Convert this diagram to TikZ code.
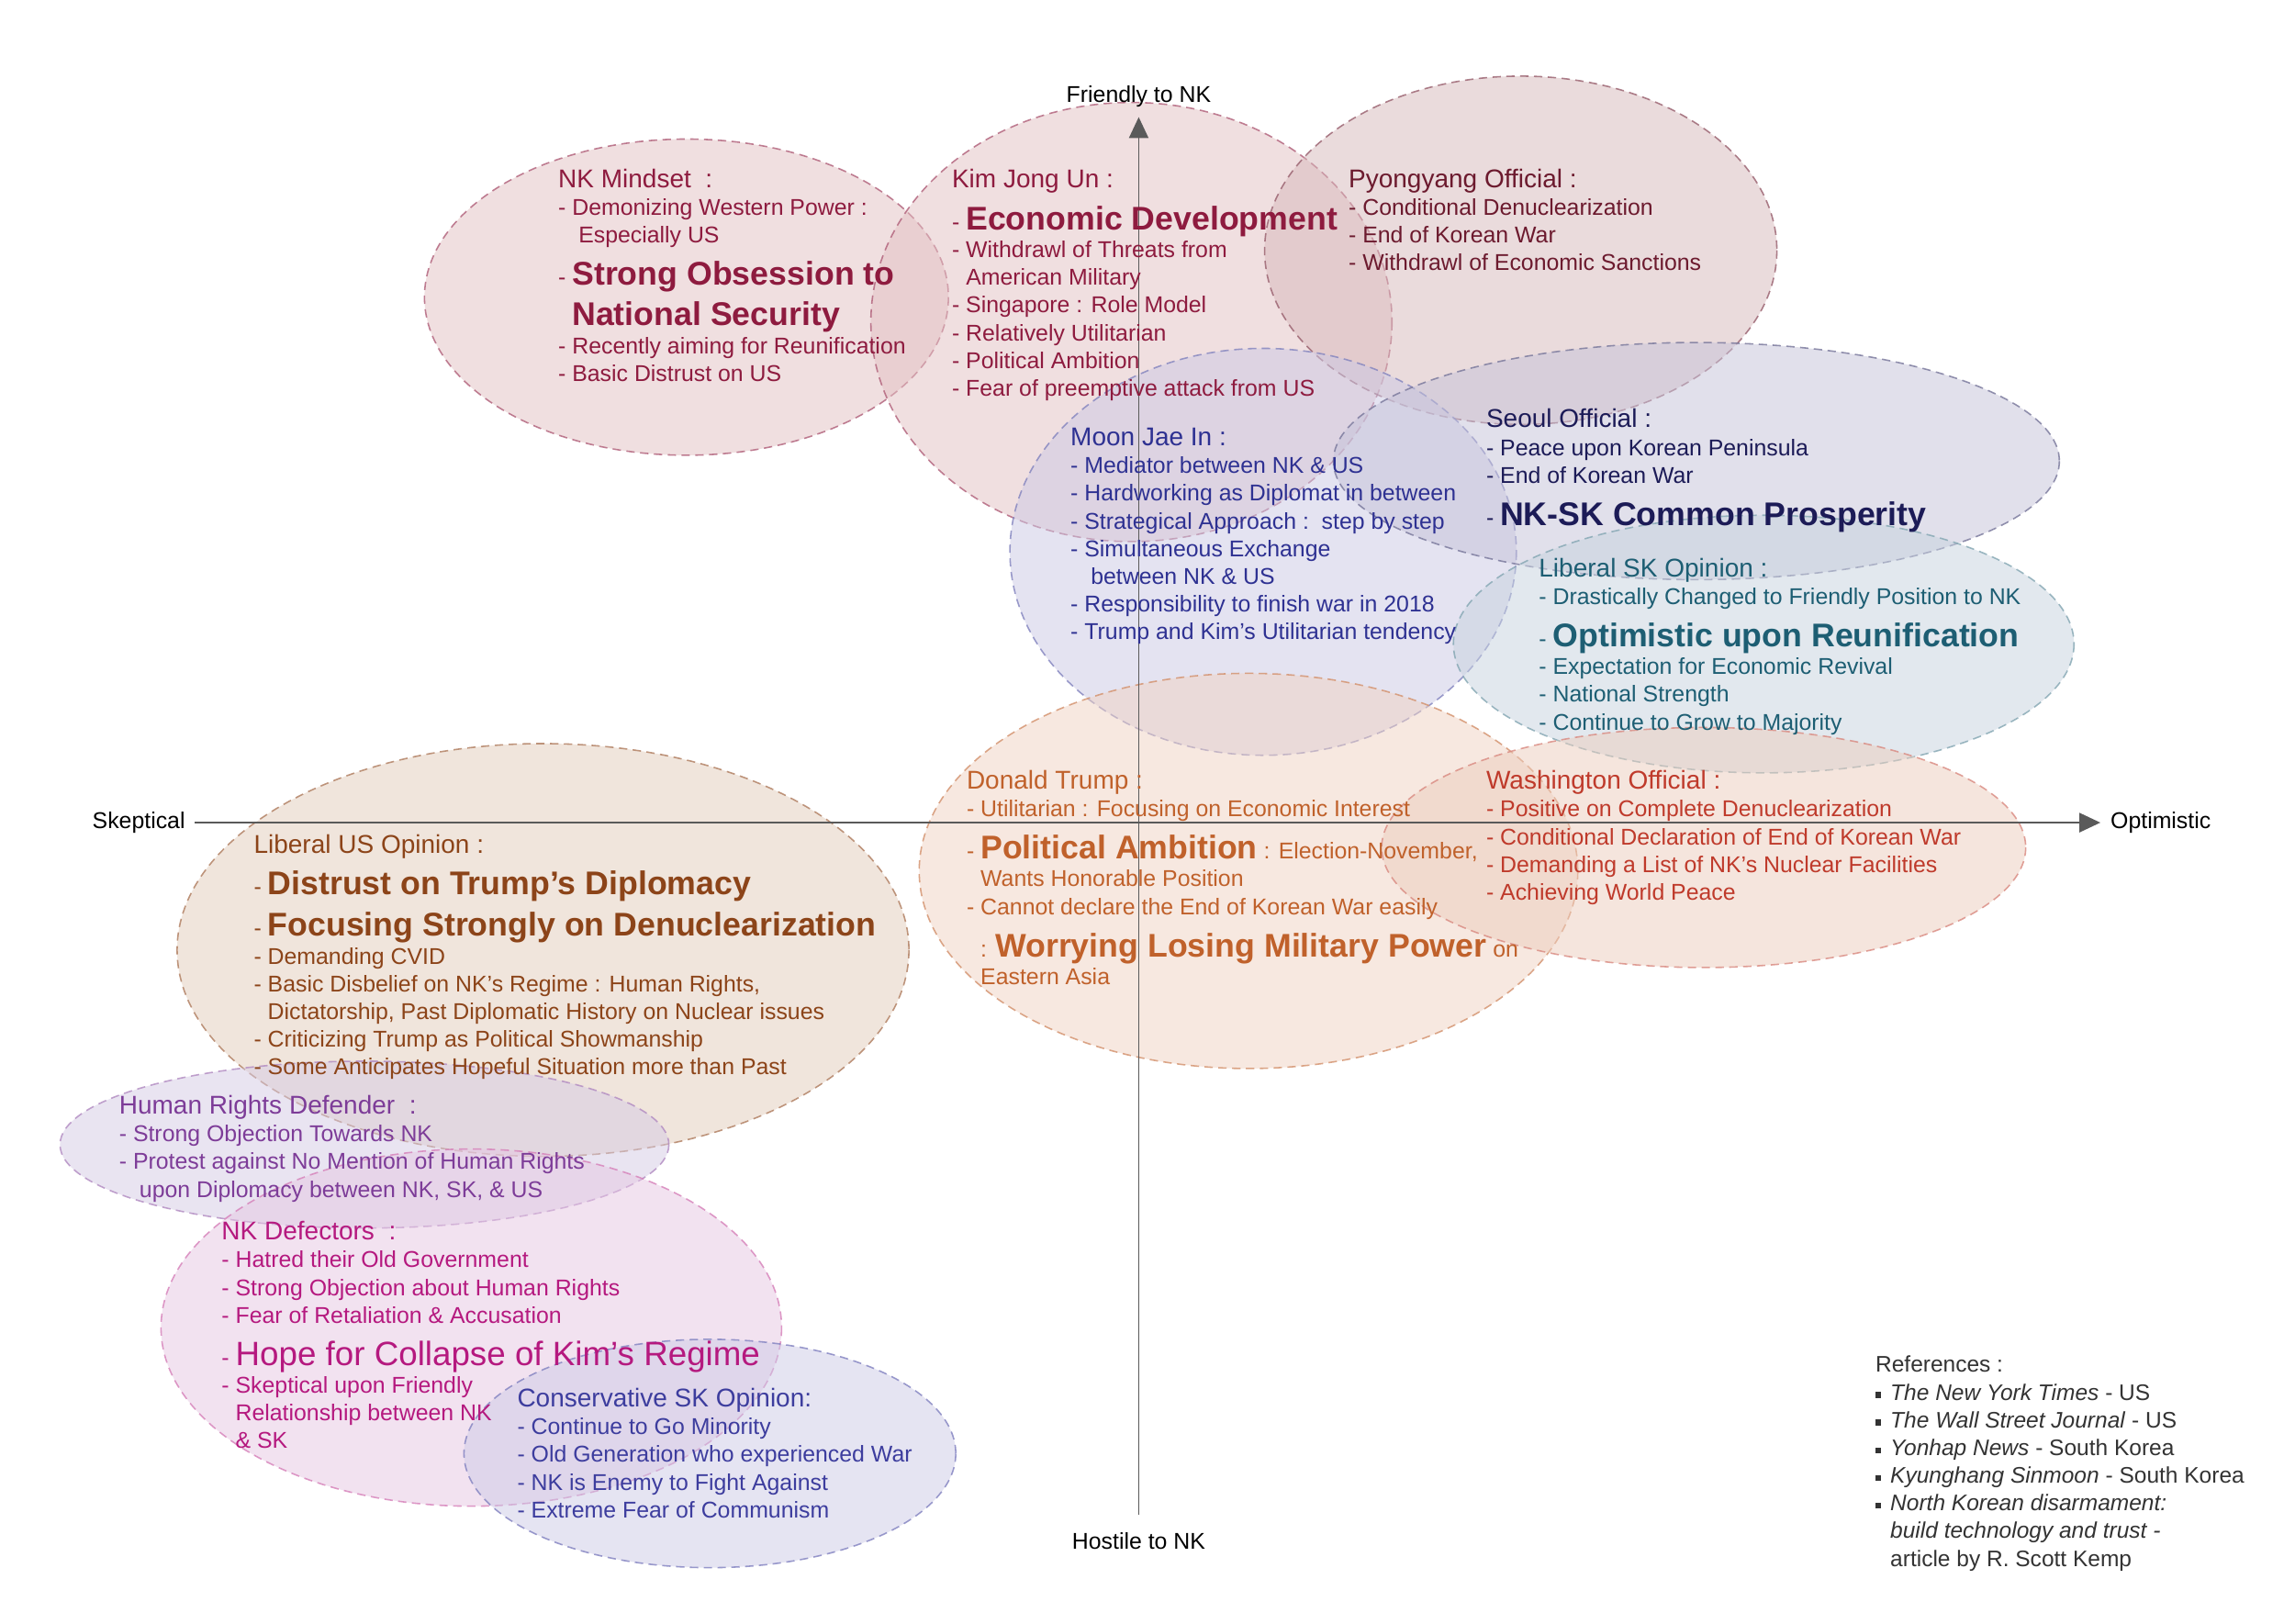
\documentclass[tikz,border=0pt]{standalone}
\usepackage{fontspec}
\setmainfont{Liberation Sans}
\usetikzlibrary{positioning, arrows.meta}
\definecolor{nkred}{HTML}{8E1B3F}
\definecolor{pyred}{HTML}{6C1A2E}
\definecolor{moonblue}{HTML}{2E3192}
\definecolor{seoulnavy}{HTML}{1C1B57}
\definecolor{lskteal}{HTML}{1D5E73}
\definecolor{trumporange}{HTML}{C0612B}
\definecolor{washred}{HTML}{BF3A2B}
\definecolor{lusbrown}{HTML}{8C4419}
\definecolor{hrpurple}{HTML}{7D3C98}
\definecolor{defmagenta}{HTML}{B5197F}
\definecolor{conindigo}{HTML}{3D3D9E}
\definecolor{refgray}{HTML}{333333}
\definecolor{axisgray}{HTML}{5A5A5A}
% fills (seen at half opacity)
\definecolor{nkfill}{HTML}{E3C1C3}
\definecolor{pyfill}{HTML}{D7B9BB}
\definecolor{moonfill}{HTML}{CBC9E5}
\definecolor{seoulfill}{HTML}{C5C3D9}
\definecolor{lskfill}{HTML}{C7D3DF}
\definecolor{trumpfill}{HTML}{F1D3C3}
\definecolor{washfill}{HTML}{EDCDBD}
\definecolor{lusfill}{HTML}{E3CDBB}
\definecolor{hrfill}{HTML}{D5CAE4}
\definecolor{deffill}{HTML}{E7C7E3}
\definecolor{confill}{HTML}{CDCBE7}
\newcommand{\blockfont}{\fontsize{7.1}{8.62}\selectfont\lineskiplimit=-50pt\relax}
\newcommand{\reffont}{\fontsize{7}{8.62}\selectfont\lineskiplimit=-50pt\relax}
\newcommand{\hdtxt}[1]{{\fontsize{8}{8.62}\selectfont #1}}
\newcommand{\bigtxt}[1]{{\fontsize{10.2}{8.62}\selectfont\bfseries #1}}
\newcommand{\hopetxt}[1]{{\fontsize{10.5}{8.62}\selectfont #1}}
\newcommand{\indt}{\hphantom{- }}
\newcommand{\refbul}{\makebox[4.6pt][l]{\raisebox{0.7pt}{\rule{1.8pt}{1.8pt}}}}

\begin{document}
\begin{tikzpicture}[
    x=0.016cm, y=-0.016cm,
    every node/.style={font=\fontsize{7.1}{8.62}\selectfont},
    blob/.style 2 args={fill=#1, fill opacity=0.5, draw=#2, draw opacity=0.8,
                        dash pattern=on 2.6pt off 1.7pt, line width=0.45pt},
    block/.style={anchor=north west, inner sep=0pt, align=left, text=#1,
                  font=\blockfont},
    axlabel/.style={inner sep=0pt, text=black},
    axis/.style={draw=axisgray, fill=axisgray, line width=0.5pt},
    >={Triangle[length=6.5pt, width=6pt]},
  ]
  \fill[white] (0,0) rectangle (1568,1109);
  \useasboundingbox (0,0) rectangle (1568,1109);

  % opinion regions
  \draw[blob={nkfill}{nkred!70}] (469,203) ellipse [x radius=179, y radius=108];
  \draw[blob={nkfill}{nkred!70}] (773,220) ellipse [x radius=178, y radius=150];
  \draw[blob={pyfill}{pyred!70}] (1039,171) ellipse [x radius=175, y radius=119];
  \draw[blob={moonfill}{moonblue!60}] (863,377) ellipse [x radius=173, y radius=139];
  \draw[blob={seoulfill}{seoulnavy!60}] (1159,315) ellipse [x radius=248, y radius=81];
  \draw[blob={lskfill}{lskteal!55}] (1205,440) ellipse [x radius=212, y radius=88];
  \draw[blob={trumpfill}{trumporange!70}] (853,595) ellipse [x radius=225, y radius=135];
  \draw[blob={washfill}{washred!60}] (1164,579) ellipse [x radius=220, y radius=82];
  \draw[blob={lusfill}{lusbrown!70}] (371,649) ellipse [x radius=250, y radius=141];
  \draw[blob={hrfill}{hrpurple!60}] (249,782) ellipse [x radius=208, y radius=57];
  \draw[blob={deffill}{defmagenta!55}] (322,907) ellipse [x radius=212, y radius=122];
  \draw[blob={confill}{conindigo!65}] (485,993) ellipse [x radius=168, y radius=78];

  % axes
  \coordinate (ntop) at (778,80);
  \coordinate (nbot) at (778,1035);
  \coordinate (sleft) at (133,562);
  \coordinate (oright) at (1435,562);
  \draw[axis, ->] (nbot) -- (ntop);
  \draw[axis, ->] (sleft) -- (oright);
  \node[axlabel, above=2.8pt of ntop] (friendly) {Friendly to NK};
  \node[axlabel, below=5.4pt of nbot] (hostile) {Hostile to NK};
  \node[axlabel, left=2.8pt of sleft] (skeptical) {Skeptical};
  \node[axlabel, right=3pt of oright] (optimistic) {Optimistic};

  % texts
  \node[block=nkred] (mindset) at (381,115)
    {\hdtxt{NK Mindset\ \ :}\\
     - Demonizing Western Power :\\
     \indt\ Especially US\\[4.5pt]
     - \bigtxt{Strong Obsession to}\\[4pt]
     \indt\bigtxt{National Security}\\
     - Recently aiming for Reunification\\
     - Basic Distrust on US};
  \node[block=nkred] (kim) at (650,115)
    {\hdtxt{Kim Jong Un :}\\[4.5pt]
     - \bigtxt{Economic Development}\\
     - Withdrawl of Threats from\\
     \indt American Military\\
     - Singapore : Role Model\\
     - Relatively Utilitarian\\
     - Political Ambition\\
     - Fear of preemptive attack from US};
  \node[block=pyred] (pyongyang) at (921,115)
    {\hdtxt{Pyongyang Official :}\\
     - Conditional Denuclearization\\
     - End of Korean War\\
     - Withdrawl of Economic Sanctions};
  \node[block=moonblue] (moon) at (731,292)
    {\hdtxt{Moon Jae In :}\\
     - Mediator between NK \& US\\
     - Hardworking as Diplomat in between\\
     - Strategical Approach :\ \ step by step\\
     - Simultaneous Exchange\\
     \indt\ between NK \& US\\
     - Responsibility to finish war in 2018\\
     - Trump and Kim’s Utilitarian tendency};
  \node[block=seoulnavy] (seoul) at (1015,279)
    {\hdtxt{Seoul Official :}\\
     - Peace upon Korean Peninsula\\
     - End of Korean War\\[4.5pt]
     - \bigtxt{NK-SK Common Prosperity}};
  \node[block=lskteal] (liberalsk) at (1051,381)
    {\hdtxt{Liberal SK Opinion :}\\
     - Drastically Changed to Friendly Position to NK\\[4.5pt]
     - \bigtxt{Optimistic upon Reunification}\\
     - Expectation for Economic Revival\\
     - National Strength\\
     - Continue to Grow to Majority};
  \node[block=trumporange] (trump) at (660,526)
    {\hdtxt{Donald Trump :}\\
     - Utilitarian : Focusing on Economic Interest\\[4.5pt]
     - \bigtxt{Political Ambition} : Election-November,\\
     \indt Wants Honorable Position\\
     - Cannot declare the End of Korean War easily\\[4.5pt]
     \indt: \bigtxt{Worrying Losing Military Power} on\\
     \indt Eastern Asia};
  \node[block=washred] (washington) at (1015,526)
    {\hdtxt{Washington Official :}\\
     - Positive on Complete Denuclearization\\
     - Conditional Declaration of End of Korean War\\
     - Demanding a List of NK’s Nuclear Facilities\\
     - Achieving World Peace};
  \node[block=lusbrown] (liberalus) at (173,570)
    {\hdtxt{Liberal US Opinion :}\\[4pt]
     - \bigtxt{Distrust on Trump’s Diplomacy}\\[4.5pt]
     - \bigtxt{Focusing Strongly on Denuclearization}\\
     - Demanding CVID\\
     - Basic Disbelief on NK’s Regime : Human Rights,\\
     \indt Dictatorship, Past Diplomatic History on Nuclear issues\\
     - Criticizing Trump as Political Showmanship\\
     - Some Anticipates Hopeful Situation more than Past};
  \node[block=hrpurple] (humanrights) at (81,748)
    {\hdtxt{Human Rights Defender\ \ :}\\
     - Strong Objection Towards NK\\
     - Protest against No Mention of Human Rights\\
     \indt\ upon Diplomacy between NK, SK, \& US};
  \node[block=defmagenta] (defectors) at (151,834)
    {\hdtxt{NK Defectors\ \ :}\\
     - Hatred their Old Government\\
     - Strong Objection about Human Rights\\
     - Fear of Retaliation \& Accusation\\[4.5pt]
     - \hopetxt{Hope for Collapse of Kim’s Regime}\\
     - Skeptical upon Friendly\\
     \indt Relationship between NK\\
     \indt\& SK};
  \node[block=conindigo] (conservative) at (353,948)
    {\hdtxt{Conservative SK Opinion:}\\
     - Continue to Go Minority\\
     - Old Generation who experienced War\\
     - NK is Enemy to Fight Against\\
     - Extreme Fear of Communism};

  % sources
  \node[block=refgray, font=\reffont] (refs) at (1281,926)
    {References :\\
     \refbul\textit{The New York Times} - US\\
     \refbul\textit{The Wall Street Journal} - US\\
     \refbul\textit{Yonhap News} - South Korea\\
     \refbul\textit{Kyunghang Sinmoon} - South Korea\\
     \refbul\textit{North Korean disarmament:}\\
     \hphantom{\refbul}\textit{build technology and trust -}\\
     \hphantom{\refbul}article by R. Scott Kemp};
\end{tikzpicture}
\end{document}
